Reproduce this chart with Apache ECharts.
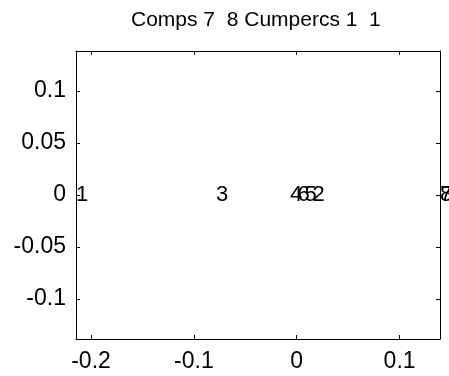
<!DOCTYPE html>
<html>
<head>
<meta charset="utf-8">
<script src="https://cdn.jsdelivr.net/npm/echarts@6/dist/echarts.min.js"></script>
<style>
  html, body { margin: 0; padding: 0; background: #fff; }
  #chart { width: 449px; height: 376px; }
</style>
</head>
<body>
<div id="chart"></div>
<script>
// Component scores (comp 7 vs comp 8) with their observation numbers
const pointLabels = ['1', '2', '3', '4', '5', '6', '7', '8'];
const comp7 = [-0.2146, 0.0154, -0.0785, -0.0065, 0.0076, 0.0008, 0.1393, 0.1393];
const comp8 = [0, 0, 0, 0, 0, 0, 0, 0];

// Axis limits and tick positions
const xLimits = [-0.2146, 0.1393];
const yLimits = [-0.1385, 0.1385];
const xTicks = [-0.2, -0.1, 0, 0.1];
const yTicks = [-0.1, -0.05, 0, 0.05, 0.1];

const titleText = 'Comps 7  8 Cumpercs 1  1';

const FONT = 'Liberation Sans, Arial, sans-serif';

function axisBase(ticks, showLabels, labelMargin) {
  return {
    type: 'value',
    scale: false,
    axisLine: { show: true, onZero: false, lineStyle: { color: '#000', width: 1 } },
    axisTick: { show: true, inside: true, length: 4, customValues: ticks, lineStyle: { color: '#000', width: 1 } },
    axisLabel: {
      show: showLabels,
      customValues: ticks,
      color: '#000',
      fontFamily: FONT,
      fontSize: 23,
      margin: labelMargin
    },
    splitLine: { show: false }
  };
}

const chart = echarts.init(document.getElementById('chart'), null, { renderer: 'canvas' });

chart.setOption({
  animation: false,
  backgroundColor: '#fff',
  title: {
    text: titleText,
    left: 126,
    top: 5,
    textStyle: { color: '#000', fontFamily: FONT, fontSize: 21, fontWeight: 'normal' }
  },
  grid: { left: 76, top: 51, width: 364, height: 288, containLabel: false },
  xAxis: [
    Object.assign(axisBase(xTicks, true, 11), { position: 'bottom', min: xLimits[0], max: xLimits[1] }),
    Object.assign(axisBase(xTicks, false, 0), { position: 'top', min: xLimits[0], max: xLimits[1] })
  ],
  yAxis: [
    Object.assign(axisBase(yTicks, true, 10), { position: 'left', min: yLimits[0], max: yLimits[1] }),
    Object.assign(axisBase(yTicks, false, 0), { position: 'right', min: yLimits[0], max: yLimits[1] })
  ],
  series: [{
    type: 'scatter',
    xAxisIndex: 0,
    yAxisIndex: 0,
    symbolSize: 0,
    clip: false,
    itemStyle: { opacity: 1 },
    data: comp7.map((x, i) => ({ value: [x, comp8[i]], name: pointLabels[i] })),
    label: {
      show: true,
      position: 'right',
      distance: 0,
      formatter: p => p.name,
      color: '#000',
      opacity: 1,
      fontFamily: FONT,
      fontSize: 22
    },
    emphasis: { disabled: true }
  }]
});
</script>
</body>
</html>
